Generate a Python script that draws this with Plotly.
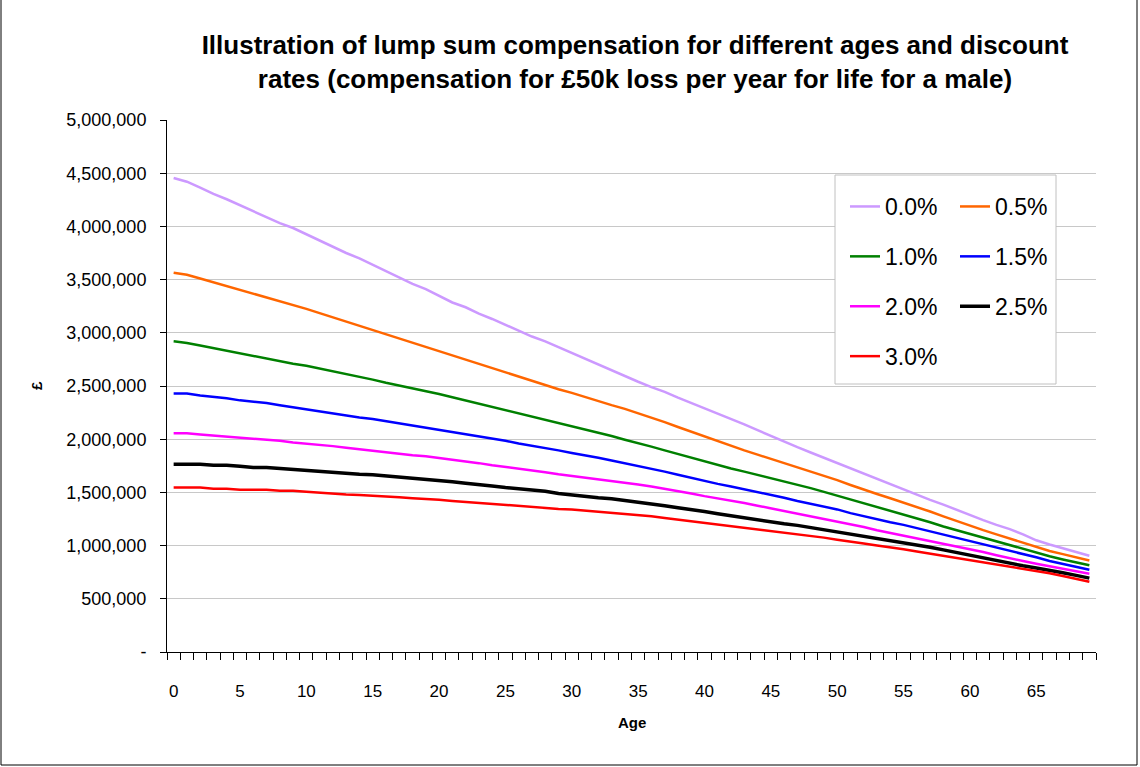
import plotly.graph_objects as go

# ---------------- data (values in £ thousands) ----------------
ages = list(range(70))
x_tick_vals = list(range(0, 70, 5))
x_tick_text = [str(v) for v in x_tick_vals]
y_tick_vals = [0, 500000, 1000000, 1500000, 2000000, 2500000, 3000000, 3500000, 4000000, 4500000, 5000000]
y_tick_text = ["-", "500,000", "1,000,000", "1,500,000", "2,000,000", "2,500,000",
               "3,000,000", "3,500,000", "4,000,000", "4,500,000", "5,000,000"]

rate_0_0 = [4455, 4420, 4365, 4305, 4255, 4200, 4145, 4085, 4030, 3985,
            3925, 3865, 3805, 3750, 3700, 3640, 3580, 3520, 3460, 3410,
            3345, 3285, 3240, 3180, 3130, 3075, 3015, 2965, 2920, 2865,
            2810, 2760, 2700, 2650, 2590, 2540, 2490, 2445, 2390, 2340,
            2295, 2245, 2190, 2140, 2085, 2030, 1980, 1925, 1875, 1825,
            1775, 1725, 1680, 1625, 1580, 1525, 1475, 1430, 1385, 1335,
            1285, 1240, 1195, 1155, 1105, 1050, 1010, 975, 940, 905]
rate_0_5 = [3565, 3545, 3510, 3475, 3440, 3405, 3370, 3335, 3295, 3260,
            3225, 3185, 3145, 3110, 3070, 3030, 2990, 2950, 2910, 2870,
            2830, 2790, 2750, 2710, 2670, 2630, 2590, 2550, 2505, 2470,
            2435, 2395, 2355, 2320, 2285, 2245, 2205, 2160, 2115, 2070,
            2025, 1980, 1935, 1895, 1855, 1815, 1775, 1735, 1700, 1655,
            1615, 1570, 1525, 1485, 1445, 1405, 1365, 1320, 1275, 1230,
            1185, 1145, 1105, 1065, 1025, 990, 950, 920, 890, 860]
rate_1_0 = [2920, 2905, 2880, 2855, 2830, 2810, 2785, 2760, 2735, 2710,
            2690, 2665, 2640, 2610, 2585, 2560, 2530, 2505, 2480, 2450,
            2425, 2395, 2365, 2335, 2300, 2270, 2240, 2210, 2180, 2150,
            2120, 2090, 2060, 2030, 1995, 1965, 1930, 1895, 1860, 1825,
            1790, 1755, 1725, 1695, 1665, 1630, 1600, 1570, 1540, 1505,
            1470, 1430, 1395, 1360, 1330, 1295, 1255, 1220, 1180, 1145,
            1105, 1070, 1035, 1000, 970, 935, 900, 870, 840, 815]
rate_1_5 = [2430, 2430, 2410, 2400, 2385, 2365, 2355, 2340, 2320, 2300,
            2285, 2260, 2245, 2225, 2205, 2190, 2170, 2150, 2130, 2110,
            2090, 2070, 2045, 2025, 2005, 1985, 1960, 1940, 1915, 1895,
            1870, 1850, 1825, 1800, 1775, 1750, 1725, 1695, 1665, 1635,
            1610, 1580, 1555, 1530, 1505, 1475, 1450, 1420, 1395, 1370,
            1340, 1305, 1275, 1245, 1220, 1195, 1165, 1130, 1100, 1070,
            1040, 1010, 980, 950, 920, 890, 855, 830, 800, 773]
rate_2_0 = [2055, 2055, 2045, 2035, 2025, 2015, 2010, 2000, 1985, 1970,
            1960, 1945, 1935, 1920, 1905, 1895, 1880, 1865, 1850, 1840,
            1825, 1805, 1790, 1775, 1755, 1740, 1725, 1705, 1690, 1670,
            1655, 1640, 1620, 1605, 1590, 1575, 1555, 1535, 1510, 1490,
            1465, 1445, 1425, 1400, 1375, 1350, 1330, 1305, 1280, 1255,
            1230, 1200, 1175, 1145, 1120, 1095, 1070, 1045, 1020, 995,
            970, 940, 910, 880, 855, 830, 805, 785, 760, 735]
rate_2_5 = [1765, 1765, 1765, 1755, 1755, 1745, 1735, 1735, 1725, 1715,
            1710, 1700, 1690, 1680, 1670, 1665, 1655, 1645, 1635, 1620,
            1610, 1600, 1585, 1575, 1560, 1545, 1535, 1520, 1510, 1490,
            1475, 1465, 1450, 1440, 1425, 1410, 1395, 1375, 1355, 1340,
            1320, 1300, 1280, 1260, 1240, 1220, 1205, 1190, 1170, 1150,
            1130, 1110, 1090, 1065, 1050, 1030, 1010, 985, 960, 935,
            905, 880, 855, 830, 810, 790, 770, 745, 720, 694]
rate_3_0 = [1545, 1545, 1545, 1535, 1535, 1525, 1525, 1525, 1515, 1515,
            1505, 1495, 1490, 1480, 1475, 1470, 1460, 1455, 1445, 1440,
            1430, 1420, 1410, 1405, 1395, 1385, 1375, 1365, 1350, 1345,
            1340, 1330, 1320, 1310, 1300, 1290, 1275, 1260, 1245, 1230,
            1215, 1200, 1185, 1170, 1155, 1140, 1120, 1105, 1090, 1075,
            1055, 1040, 1020, 1000, 985, 965, 945, 925, 905, 885,
            860, 840, 820, 800, 780, 765, 740, 715, 690, 660]

series = [
    ("0.0%", rate_0_0, "#CC99FF", 2.5, "legend"),
    ("0.5%", rate_0_5, "#FF6600", 2.5, "legend2"),
    ("1.0%", rate_1_0, "#008000", 2.5, "legend"),
    ("1.5%", rate_1_5, "#0000FF", 2.5, "legend2"),
    ("2.0%", rate_2_0, "#FF00FF", 2.5, "legend"),
    ("2.5%", rate_2_5, "#000000", 3.5, "legend2"),
    ("3.0%", rate_3_0, "#FF0000", 2.5, "legend"),
]

# ---------------- layout geometry ----------------
W, H = 1140, 767
L, R, T, B = 167, 44, 120, 115
PW, PH = W - L - R, H - T - B


def px_x(px):
    return (px - L) / PW


def px_y(py):
    return (H - B - py) / PH


FONT = "Arial, 'Liberation Sans', Helvetica, sans-serif"

fig = go.Figure()
for name, vals, color, width, leg in series:
    fig.add_trace(go.Scatter(
        x=ages, y=[v * 1000 for v in vals], mode="lines", name=name,
        line=dict(color=color, width=width), legend=leg, legendgroup=name,
    ))

fig.update_layout(
    width=W, height=H,
    margin=dict(l=L, r=R, t=T, b=B),
    paper_bgcolor="white", plot_bgcolor="white",
    font=dict(family=FONT, color="black"),
    title=dict(
        text="<b>Illustration of lump sum compensation for different ages and discount<br>"
             "rates (compensation for £50k loss per year for life for a male)</b>",
        x=px_x(635), xref="paper", xanchor="center",
        y=1 - 54 / H, yref="container", yanchor="top",
        font=dict(size=26, family=FONT, color="black"),
    ),
    xaxis=dict(
        range=[-0.5, 69.5], tickvals=x_tick_vals, ticktext=x_tick_text,
        ticks="", showgrid=False, zeroline=False,
        showline=True, linecolor="black", linewidth=1,
        tickfont=dict(size=17, family=FONT), ticklabelstandoff=24,
        minor=dict(tickvals=[i - 0.5 for i in range(71)], ticks="outside",
                   ticklen=7, tickcolor="black", tickwidth=1, showgrid=False),
    ),
    yaxis=dict(
        range=[0, 5000000], tickvals=y_tick_vals, ticktext=y_tick_text,
        ticks="outside", ticklen=6, tickcolor="black",
        showline=True, linecolor="black", linewidth=1,
        showgrid=True, gridcolor="#c8c8c8", gridwidth=1, zeroline=False,
        tickfont=dict(size=18, family=FONT), ticklabelstandoff=10,
    ),
    legend=dict(x=px_x(845), y=px_y(185), xanchor="left", yanchor="top",
                bgcolor="rgba(0,0,0,0)", font=dict(size=23, family=FONT),
                tracegroupgap=17),
    legend2=dict(x=px_x(955), y=px_y(185), xanchor="left", yanchor="top",
                 bgcolor="rgba(0,0,0,0)", font=dict(size=23, family=FONT),
                 tracegroupgap=17),
    showlegend=True,
    shapes=[
        dict(type="rect", xref="paper", yref="paper",
             x0=px_x(835), x1=px_x(1056), y0=px_y(384), y1=px_y(175),
             line=dict(color="#c0c0c0", width=1), fillcolor="white", layer="above"),
        dict(type="rect", xref="paper", yref="paper",
             x0=px_x(1), x1=px_x(1137), y0=px_y(765), y1=px_y(-5),
             line=dict(color="black", width=1), fillcolor="rgba(0,0,0,0)", layer="above"),
    ],
    annotations=[
        dict(text="<b>£</b>", xref="paper", yref="paper", x=px_x(36), y=px_y(386),
             xanchor="center", yanchor="middle",
             showarrow=False, textangle=-90, font=dict(size=15, family=FONT)),
        dict(text="<b>Age</b>", xref="paper", yref="paper", x=px_x(632), y=px_y(722),
             xanchor="center", yanchor="middle",
             showarrow=False, font=dict(size=15, family=FONT)),
    ],
)

fig.write_html("out.html", config={"displayModeBar": False},
               post_script="document.body.style.margin='0';")
